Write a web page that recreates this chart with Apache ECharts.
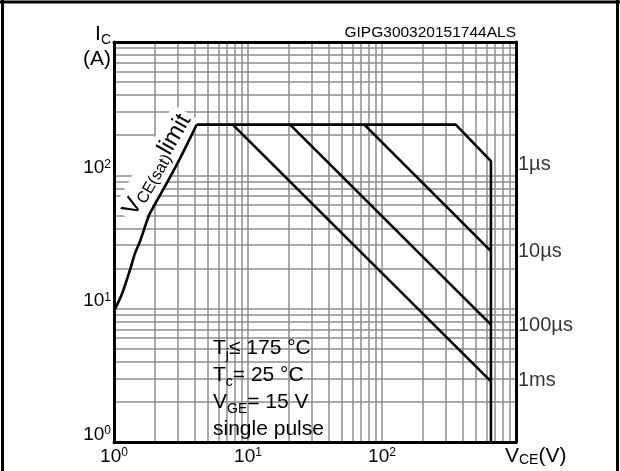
<!DOCTYPE html>
<html><head><meta charset="utf-8">
<script src="https://cdn.jsdelivr.net/npm/echarts@6/dist/echarts.min.js"></script>
<style>html,body{margin:0;padding:0;background:#fff}#c{width:620px;height:471px}</style>
</head><body><div id="c"></div>
<script>
// ---- data (log-log SOA chart) ----
const vceSatV = [1.0, 1.14, 1.316, 1.434, 1.56, 1.772, 1.857, 2.47, 3.11, 4.14];
const vceSatI = [9.6, 12.7, 19.5, 26, 31.8, 46.3, 52, 87, 134, 240];
const pulse1usV = [4.14, 355, 650, 650];
const pulse1usI = [240, 240, 128, 1];
const pulse10usV = [73.8, 650];
const pulse10usI = [240, 27];
const pulse100usV = [20.6, 650];
const pulse100usI = [240, 7.6];
const pulse1msV = [7.69, 650];
const pulse1msI = [240, 2.85];
const pulseNames = ['1µs', '10µs', '100µs', '1ms'];
const pulseLabelI = [120, 27, 7.5, 2.9];
const tickValues = [1, 10, 100];
const tickExponents = ['0', '1', '2'];
const gridLineValues = [2,3,4,5,6,7,8,9,10,20,30,40,50,60,70,80,90,100,200,300,400,500,600,700,800,900];

const FONT = '"Liberation Sans", Arial, Helvetica, sans-serif';
const pair = (xs, ys) => xs.map((x, i) => [x, ys[i]]);
const tickFmt = v => {
  const k = tickValues.findIndex(t => Math.abs(t - v) < 1e-6);
  return k < 0 ? '' : '{b|10}{s|' + tickExponents[k] + '}';
};
const tickRich = {
  b: {fontSize: 19, fontFamily: FONT, color: '#000', lineHeight: 22, verticalAlign: 'top'},
  s: {fontSize: 12, fontFamily: FONT, color: '#000', lineHeight: 8, verticalAlign: 'top'}
};
const subRich = size => ({sub: {fontSize: size, fontFamily: FONT, color: '#000', lineHeight: size, verticalAlign: 'bottom'}});

const chart = echarts.init(document.getElementById('c'), null, {renderer: 'canvas'});
const lineSeries = (xs, ys, extra) => Object.assign({
  type: 'line', data: pair(xs, ys), showSymbol: false, symbol: 'none', z: 10,
  lineStyle: {color: '#000', width: 2.6}, animation: false, silent: true
}, extra || {});
const hiddenAxis = (pos) => ({
  type: 'log', logBase: 10, min: 1, max: 1000, position: pos, z: 20,
  axisLine: {show: true, lineStyle: {color: '#000', width: 3}},
  axisTick: {show: false}, axisLabel: {show: false}, splitLine: {show: false}
});

chart.setOption({
  backgroundColor: '#fff',
  animation: false,
  grid: {left: 114, right: 104, top: 42, bottom: 29, containLabel: false},
  xAxis: [
    {type: 'log', logBase: 10, min: 1, max: 1000, position: 'bottom', z: 20,
     axisLine: {show: true, onZero: false, lineStyle: {color: '#000', width: 3}},
     axisTick: {show: false}, splitLine: {show: false}, minorSplitLine: {show: false},
     axisLabel: {formatter: tickFmt, margin: 5, rich: tickRich, showMinLabel: true, showMaxLabel: true},
     name: 'V{sub|CE}(V)', nameLocation: 'end', nameGap: -11,
     nameTextStyle: {fontSize: 21, fontFamily: FONT, color: '#000', align: 'left', verticalAlign: 'top',
       padding: [4, 0, 0, 0], rich: subRich(14)}},
    hiddenAxis('top')
  ],
  yAxis: [
    {type: 'log', logBase: 10, min: 1, max: 1000, position: 'left', z: 20,
     axisLine: {show: true, onZero: false, lineStyle: {color: '#000', width: 3}},
     axisTick: {show: false}, splitLine: {show: false},
     axisLabel: {formatter: tickFmt, margin: 3, rich: tickRich, padding: [0, 0, 12, 0], showMinLabel: true, showMaxLabel: true},
     name: 'I{sub|C}\n(A)', nameLocation: 'end', nameGap: -5,
     nameTextStyle: {fontSize: 21, fontFamily: FONT, color: '#000', align: 'right', verticalAlign: 'middle',
       lineHeight: 25, padding: [0, 3, 0, 0], rich: subRich(14)}},
    hiddenAxis('right')
  ],
  series: [
    {type: 'line', data: [], z: 1, silent: true, animation: false,
     markLine: {silent: true, symbol: ['none', 'none'], animation: false, label: {show: false},
       lineStyle: {color: '#8c8c8c', width: 1.5, type: 'solid'},
       emphasis: {disabled: true},
       data: gridLineValues.map(v => ({xAxis: v})).concat(gridLineValues.map(v => ({yAxis: v})))}},
    lineSeries(vceSatV, vceSatI, {smooth: 0.3}),
    lineSeries(pulse1usV, pulse1usI),
    lineSeries(pulse10usV, pulse10usI),
    lineSeries(pulse100usV, pulse100usI),
    lineSeries(pulse1msV, pulse1msI),
    {type: 'scatter', symbolSize: 0, z: 10, silent: true, animation: false,
     data: pulseNames.map((n, i) => ({value: [1000, pulseLabelI[i]], name: n})),
     label: {show: true, position: 'right', distance: 2, formatter: p => p.name,
       fontSize: 20, fontFamily: FONT, color: '#000'}}
  ],
  graphic: [
    {type: 'text', z: 30, x: 516, y: 33, style: {text: 'GIPG300320151744ALS', fontSize: 15.5, fontFamily: FONT,
      fill: '#000', align: 'right', verticalAlign: 'middle'}},
    {type: 'rect', z: 5, shape: {x: 208, y: 337, width: 123, height: 105}, style: {fill: '#fff'}},
    {type: 'text', z: 6, x: 213, y: 335, style: {
      text: 'T{sub|j}≤ 175 °C\nT{sub|c}= 25 °C\nV{sub|GE}= 15 V\nsingle pulse',
      fontSize: 21, fontFamily: FONT, fill: '#000', lineHeight: 27, align: 'left', verticalAlign: 'top',
      rich: {sub: {fontSize: 14, fontFamily: FONT, fill: '#000', lineHeight: 16, verticalAlign: 'bottom'}}}},
    {type: 'text', z: 6, x: 157, y: 165, rotation: 60 * Math.PI / 180, style: {
      text: 'V{sub|CE(sat)}limit', fontSize: 24, fontFamily: FONT, fill: '#000', align: 'center',
      verticalAlign: 'middle', backgroundColor: '#fff', padding: [3, 4, 3, 4], lineHeight: 26,
      rich: {sub: {fontSize: 16, fontFamily: FONT, fill: '#000', lineHeight: 16, verticalAlign: 'bottom'}}}},
    {type: 'line', z: 30, shape: {x1: 0, y1: 2, x2: 620, y2: 2}, style: {stroke: '#000', lineWidth: 3}},
    {type: 'line', z: 30, shape: {x1: 2.5, y1: 0, x2: 2.5, y2: 471}, style: {stroke: '#000', lineWidth: 3}},
    {type: 'line', z: 30, shape: {x1: 617.5, y1: 0, x2: 617.5, y2: 471}, style: {stroke: '#000', lineWidth: 3}}
  ]
});
</script></body></html>
